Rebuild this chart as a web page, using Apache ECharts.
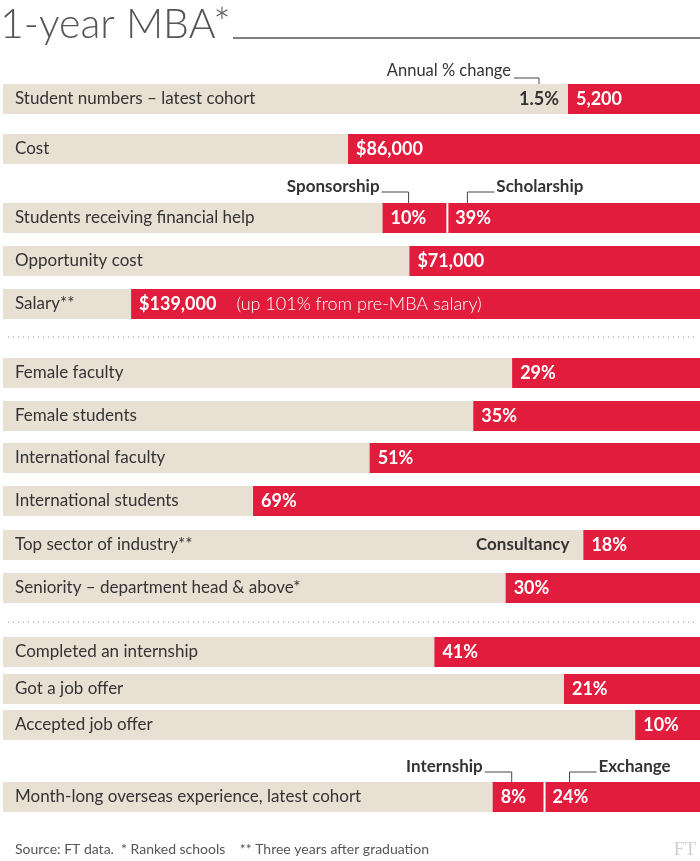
<!DOCTYPE html>
<html>
<head>
<meta charset="utf-8">
<script src="https://cdn.jsdelivr.net/npm/echarts@6/dist/echarts.min.js"></script>
<style>
html,body{margin:0;padding:0;background:#fff;}
#chart{width:700px;height:861px;}
</style>
</head>
<body>
<div id="chart"></div>
<script>
// ---------- data ----------
const title = '1-year MBA*';
const rowLabels = [
  'Student numbers – latest cohort',
  'Cost',
  'Students receiving financial help',
  'Opportunity cost',
  'Salary**',
  'Female faculty',
  'Female students',
  'International faculty',
  'International students',
  'Top sector of industry**',
  'Seniority – department head & above*',
  'Completed an internship',
  'Got a job offer',
  'Accepted job offer',
  'Month-long overseas experience, latest cohort'
];
const rowUnits = ['count','usd','pct','usd','usd','pct','pct','pct','pct','pct','pct','pct','pct','pct','pct'];
// right-hand (main) red segment values
const mainValues = [5200, 86000, 39, 71000, 139000, 29, 35, 51, 69, 18, 30, 41, 21, 10, 24];
// left-hand (split) red segment values, where a row has two parts
const splitValues = [null, null, 10, null, null, null, null, null, null, null, null, null, null, null, 8];
const annualChange = '1.5%';
const annualChangeLabel = 'Annual % change';
const salaryNote = '(up 101% from pre-MBA salary)';
const topSectorName = 'Consultancy';
const financialHelpParts = ['Sponsorship', 'Scholarship'];
const overseasParts = ['Internship', 'Exchange'];
const sourceText = 'Source: FT data.  * Ranked schools    ** Three years after graduation';

// ---------- layout / style ----------
const RED = '#e21c3c';
const BEIGE = '#e9e0d4';
const DARK = '#333333';
const FONT = 'Lato, "Open Sans", sans-serif';
const rowTops = [84,134,203,246,289,358,401,443,486,530,573,637,674,710,782];
const rowHeight = 30;
const axisMax = { pct: 107.6, usd: 170300, count: 27460 };

function fmtValue(v, unit) {
  if (unit === 'pct') return v + '%';
  const s = String(v).replace(/\B(?=(\d{3})+(?!\d))/g, ',');
  return unit === 'usd' ? '$' + s : s;
}

const chart = echarts.init(document.getElementById('chart'), null, {renderer: 'canvas'});

const grids = [], xAxes = [], yAxes = [], series = [];
rowLabels.forEach((lab, i) => {
  grids.push({ left: 3, right: 0, top: rowTops[i], height: rowHeight });
  xAxes.push({ gridIndex: i, type: 'value', inverse: true, min: 0, max: axisMax[rowUnits[i]], show: false });
  yAxes.push({
    gridIndex: i, type: 'category', data: [lab], z: 10,
    axisLine: {show: false}, axisTick: {show: false}, splitLine: {show: false},
    axisLabel: { inside: true, margin: 12, color: DARK, fontFamily: FONT, fontSize: 17 }
  });
  const isSalary = i === 4;
  const hasSplit = splitValues[i] != null;
  series.push({
    type: 'bar', xAxisIndex: i, yAxisIndex: i, stack: 's' + i,
    barWidth: '100%',
    showBackground: true,
    backgroundStyle: { color: BEIGE },
    itemStyle: { color: RED },
    data: [mainValues[i]],
    label: {
      show: true, position: 'insideLeft', distance: 8,
      color: '#fff', fontFamily: FONT, fontSize: 18, fontWeight: 'bold',
      formatter: isSalary
        ? () => '{a|' + fmtValue(mainValues[i], rowUnits[i]) + '}{b|' + salaryNote + '}'
        : () => fmtValue(mainValues[i], rowUnits[i]),
      rich: isSalary ? {
        a: { color: '#fff', fontFamily: FONT, fontSize: 18, fontWeight: 'bold' },
        b: { color: '#fff', fontFamily: FONT, fontSize: 18, fontWeight: 300, padding: [0, 0, 0, 20] }
      } : undefined
    }
  });
  if (hasSplit) {
    series.push({
      type: 'bar', xAxisIndex: i, yAxisIndex: i, stack: 's' + i,
      barWidth: '100%',
      itemStyle: { color: RED },
      data: [splitValues[i]],
      label: {
        show: true, position: 'insideLeft', distance: 8,
        color: '#fff', fontFamily: FONT, fontSize: 18, fontWeight: 'bold',
        formatter: () => fmtValue(splitValues[i], rowUnits[i])
      }
    });
  }
});

chart.setOption({
  animation: false,
  grid: grids, xAxis: xAxes, yAxis: yAxes, series: series
});

// ---------- annotations positioned from the axes ----------
function px(i, v) { return chart.convertToPixel({xAxisIndex: i}, v); }
const G = [];
const lineStyle = { stroke: '#444', lineWidth: 1 };
function text(x, y, s, opt) {
  G.push({ type: 'text', x: x, y: y, z: 20, style: Object.assign({
    text: s, fill: DARK, font: '17px ' + FONT, textAlign: 'left', textVerticalAlign: 'middle'
  }, opt || {}) });
}
function poly(pts) {
  G.push({ type: 'polyline', z: 20, shape: { points: pts }, style: Object.assign({ fill: null }, lineStyle) });
}
function gap(x, top) {
  G.push({ type: 'rect', z: 15, shape: { x: x - 1, y: top, width: 2, height: rowHeight }, style: { fill: '#fff' } });
}

// title
text(0, 25, title, { font: '300 41px ' + FONT, fill: '#555' });
G.push({ type: 'line', z: 20, shape: { x1: 233, y1: 38, x2: 700, y2: 38 }, style: { stroke: '#555', lineWidth: 1.5 } });

// student numbers: annual % change
const sx = px(0, mainValues[0]);
const c0 = rowTops[0] + rowHeight / 2;
text(sx - 9, c0, annualChange, { textAlign: 'right', font: 'bold 18px ' + FONT });
poly([[sx - 54, rowTops[0] - 6], [sx - 29, rowTops[0] - 6], [sx - 29, rowTops[0]]]);
text(sx - 57, rowTops[0] - 13, annualChangeLabel, { textAlign: 'right', font: '16.5px ' + FONT });

// financial help parts
const fMain = px(2, mainValues[2]);
const fSplit = px(2, mainValues[2] + splitValues[2]);
const fy = rowTops[2] - 11;
gap(fMain, rowTops[2]);
poly([[fSplit - 1, fy], [fSplit + 26, fy], [fSplit + 26, rowTops[2]]]);
text(fSplit - 3, fy - 5, financialHelpParts[0], { textAlign: 'right', font: 'bold 17px ' + FONT });
poly([[fMain + 20, rowTops[2]], [fMain + 20, fy], [fMain + 47, fy]]);
text(fMain + 49, fy - 5, financialHelpParts[1], { font: 'bold 17px ' + FONT });

// top sector
const tx = px(9, mainValues[9]);
text(tx - 14, rowTops[9] + rowHeight / 2, topSectorName, { textAlign: 'right', font: 'bold 17px ' + FONT });

// overseas parts
const oMain = px(14, mainValues[14]);
const oSplit = px(14, mainValues[14] + splitValues[14]);
const oy = rowTops[14] - 10;
gap(oMain, rowTops[14]);
poly([[oSplit - 8, oy], [oSplit + 19, oy], [oSplit + 19, rowTops[14]]]);
text(oSplit - 10, oy - 5, overseasParts[0], { textAlign: 'right', font: 'bold 17px ' + FONT });
poly([[oMain + 25, rowTops[14]], [oMain + 25, oy], [oMain + 52, oy]]);
text(oMain + 54, oy - 5, overseasParts[1], { font: 'bold 17px ' + FONT });

// dotted separators
[337, 622].forEach(y => {
  G.push({ type: 'line', z: 20, shape: { x1: 8, y1: y, x2: 697, y2: y },
    style: { stroke: '#888', lineWidth: 1, lineDash: [1, 4] } });
});

// footer
text(15, 849, sourceText, { font: '14px ' + FONT, fill: '#555' });
text(696, 850, 'FT', { textAlign: 'right', font: '19px "Liberation Serif", "DejaVu Serif", serif', fill: '#d0d0d0' });

chart.setOption({ graphic: G });
</script>
</body>
</html>
